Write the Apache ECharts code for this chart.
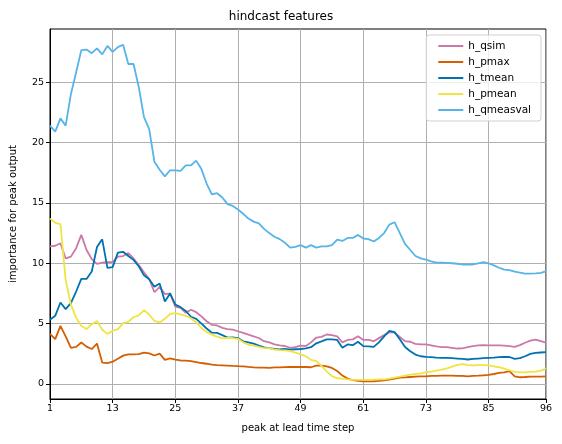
<!DOCTYPE html>
<html>
<head>
<meta charset="utf-8">
<title>hindcast features</title>
<script src="https://cdn.jsdelivr.net/npm/echarts@6/dist/echarts.min.js"></script>
<style>
  html, body { margin: 0; padding: 0; background: #fff; }
  #chart { width: 562px; height: 444px; }
</style>
</head>
<body>
<div id="chart"></div>
<script>
// lead time steps 1..96
var steps = [];
for (var s = 1; s <= 96; s++) steps.push(s);

var xTicks = [1, 13, 25, 37, 49, 61, 73, 85, 96];
var yTicks = [0, 5, 10, 15, 20, 25];

var h_qsim = [
  11.4, 11.45, 11.65, 10.4, 10.55, 11.25, 12.35, 11.1, 10.35, 9.95,
  10.05, 10.1, 10.1, 10.55, 10.6, 10.85, 10.4, 9.85, 9.25, 8.7,
  7.6, 8.05, 7.45, 7.5, 6.4, 6.3, 5.9, 6.15, 5.95, 5.6,
  5.2, 4.9, 4.85, 4.65, 4.55, 4.5, 4.37, 4.23, 4.09, 3.95,
  3.81, 3.55, 3.45, 3.28, 3.2, 3.15, 3.0, 3.05, 3.18, 3.15,
  3.45, 3.85, 3.9, 4.1, 4.05, 3.95, 3.45, 3.65, 3.7, 3.95,
  3.65, 3.65, 3.55, 3.8, 4.05, 4.3, 4.25, 3.9, 3.55, 3.5,
  3.33, 3.28, 3.28, 3.2, 3.11, 3.06, 3.06, 3.0, 2.94, 2.96,
  3.06, 3.14, 3.2, 3.22, 3.2, 3.2, 3.2, 3.18, 3.14, 3.08,
  3.22, 3.42, 3.6, 3.67, 3.55, 3.42
];

var h_pmax = [
  4.15, 3.72, 4.82, 3.94, 3.0, 3.08, 3.44, 3.1, 2.9, 3.35,
  1.78, 1.73, 1.85, 2.1, 2.35, 2.45, 2.45, 2.48, 2.6, 2.54,
  2.36, 2.52, 2.0, 2.12, 2.02, 1.95, 1.94, 1.9, 1.82, 1.74,
  1.68, 1.6, 1.57, 1.55, 1.53, 1.5, 1.48, 1.47, 1.42, 1.38,
  1.36, 1.35, 1.33, 1.38, 1.38, 1.4, 1.41, 1.41, 1.42, 1.41,
  1.39, 1.52, 1.52, 1.47, 1.33, 1.08, 0.7, 0.45, 0.32, 0.26,
  0.22, 0.22, 0.23, 0.26, 0.3, 0.36, 0.44, 0.53, 0.55, 0.58,
  0.61, 0.64, 0.64, 0.67, 0.67, 0.69, 0.69, 0.69, 0.67, 0.67,
  0.64, 0.67, 0.69, 0.72, 0.75, 0.83, 0.92, 0.97, 1.06, 0.64,
  0.56, 0.58, 0.61, 0.61, 0.61, 0.64
];

var h_tmean = [
  5.33, 5.65, 6.75, 6.2, 6.7, 7.66, 8.7, 8.7, 9.32, 11.35,
  11.98, 9.62, 9.68, 10.88, 10.95, 10.6, 10.28, 9.75, 9.0, 8.68,
  8.05, 8.33, 6.84, 7.5, 6.57, 6.37, 6.05, 5.57, 5.4, 5.0,
  4.6, 4.25, 4.23, 4.05, 3.85, 3.87, 3.8, 3.54, 3.45, 3.34,
  3.18, 3.04, 2.98, 2.9, 2.87, 2.9, 2.85, 2.88, 2.9, 2.95,
  3.05, 3.37, 3.53, 3.7, 3.7, 3.65, 3.0, 3.28, 3.22, 3.5,
  3.14, 3.12, 3.08, 3.45, 3.95, 4.4, 4.3, 3.7, 3.06, 2.72,
  2.44, 2.3, 2.25, 2.22, 2.19, 2.17, 2.17, 2.14, 2.11, 2.08,
  2.03, 2.08, 2.11, 2.14, 2.17, 2.19, 2.22, 2.25, 2.24, 2.08,
  2.14, 2.3, 2.5, 2.58, 2.61, 2.64
];

var h_pmean = [
  13.7, 13.35, 13.25, 8.6, 6.6, 5.5, 4.8, 4.55, 4.95, 5.22,
  4.5, 4.15, 4.4, 4.55, 5.04, 5.15, 5.55, 5.68, 6.12, 5.76,
  5.22, 5.1, 5.4, 5.8, 5.88, 5.76, 5.65, 5.45, 5.1, 4.64,
  4.3, 4.09, 3.93, 3.78, 3.81, 3.81, 3.74, 3.45, 3.26, 3.18,
  3.07, 2.98, 2.98, 2.85, 2.8, 2.79, 2.72, 2.6, 2.45, 2.3,
  2.0, 1.9, 1.5, 1.05, 0.65, 0.48, 0.44, 0.38, 0.35, 0.35,
  0.35, 0.35, 0.36, 0.38, 0.39, 0.44, 0.53, 0.61, 0.69, 0.78,
  0.83, 0.89, 0.97, 1.03, 1.11, 1.19, 1.3, 1.44, 1.58, 1.64,
  1.58, 1.55, 1.57, 1.57, 1.55, 1.47, 1.39, 1.28, 1.14, 1.0,
  0.97, 0.97, 1.0, 1.03, 1.11, 1.3
];

var h_qmeasval = [
  21.4, 20.9, 22.0, 21.4, 24.0, 25.8, 27.65, 27.7, 27.4, 27.8,
  27.3, 28.0, 27.5, 27.9, 28.1, 26.5, 26.5, 24.6, 22.1, 21.1,
  18.4, 17.75, 17.2, 17.7, 17.7, 17.65, 18.1, 18.1, 18.5, 17.8,
  16.6, 15.7, 15.8, 15.45, 14.9, 14.75, 14.45, 14.1, 13.7, 13.45,
  13.3, 12.85, 12.5, 12.2, 12.0, 11.7, 11.3, 11.35, 11.5, 11.3,
  11.5, 11.3, 11.4, 11.4, 11.5, 11.95, 11.85, 12.1, 12.1, 12.35,
  12.05, 12.0, 11.8, 12.1, 12.5, 13.2, 13.4, 12.5, 11.6, 11.1,
  10.6, 10.4, 10.3, 10.15, 10.05, 10.05, 10.03, 10.0, 9.96, 9.9,
  9.9, 9.9, 10.0, 10.1, 10.0, 9.83, 9.63, 9.47, 9.43, 9.3,
  9.22, 9.14, 9.15, 9.17, 9.2, 9.33
];

var seriesNames = ['h_qsim', 'h_pmax', 'h_tmean', 'h_pmean', 'h_qmeasval'];
var seriesValues = [h_qsim, h_pmax, h_tmean, h_pmean, h_qmeasval];
var seriesColors = ['#CC79A7', '#D55E00', '#0072B2', '#F0E442', '#56B4E9'];

var FONT = 'DejaVu Sans';

function pairs(values) {
  return values.map(function(v, i) {
    return [steps[i], v];
  });
}

var series = seriesNames.map(function(name, i) {
  return {
    name: name,
    type: 'line',
    data: pairs(seriesValues[i]),
    showSymbol: false,
    symbol: 'none',
    lineStyle: { color: seriesColors[i], width: 1.8 },
    itemStyle: { color: seriesColors[i] }
  };
});

var chart = echarts.init(document.getElementById('chart'), null, { renderer: 'canvas' });

chart.setOption({
  animation: false,
  backgroundColor: '#fff',
  title: {
    text: 'hindcast features',
    left: 'center',
    top: 6,
    textStyle: { fontFamily: FONT, fontSize: 12, fontWeight: 'normal', color: '#000' }
  },
  grid: {
    left: 50, right: 16, top: 29, bottom: 45,
    show: true,
    borderColor: '#000',
    borderWidth: 1,
    backgroundColor: 'transparent'
  },
  legend: {
    orient: 'vertical',
    right: 21,
    top: 35,
    data: seriesNames,
    icon: 'rect',
    itemWidth: 25,
    itemHeight: 2,
    itemGap: 0,
    padding: [3, 10, 3, 12],
    borderColor: '#d0d0d0',
    borderWidth: 1,
    borderRadius: 3,
    backgroundColor: 'rgba(255,255,255,0.8)',
    textStyle: { fontFamily: FONT, fontSize: 10.5, color: '#000', lineHeight: 16 }
  },
  xAxis: {
    type: 'value',
    min: 1,
    max: 96,
    name: 'peak at lead time step',
    nameLocation: 'middle',
    nameGap: 24,
    nameTextStyle: { fontFamily: FONT, fontSize: 10, color: '#000' },
    axisLine: { onZero: false, lineStyle: { color: '#000', width: 1 } },
    axisTick: { customValues: xTicks, length: 4, lineStyle: { color: '#000' } },
    axisLabel: { customValues: xTicks, fontFamily: FONT, fontSize: 9.5, color: '#000', margin: 5 },
    splitLine: { show: true, lineStyle: { color: '#b0b0b0', width: 1 } }
  },
  yAxis: {
    type: 'value',
    min: -1.24,
    max: 29.4,
    name: 'importance for peak output',
    nameLocation: 'middle',
    nameGap: 32,
    nameTextStyle: { fontFamily: FONT, fontSize: 10, color: '#000' },
    axisLine: { show: true, onZero: false, lineStyle: { color: '#000', width: 1 } },
    axisTick: { show: true, customValues: yTicks, length: 4, lineStyle: { color: '#000' } },
    axisLabel: { customValues: yTicks, fontFamily: FONT, fontSize: 9.5, color: '#000', margin: 6 },
    splitLine: { show: true, lineStyle: { color: '#b0b0b0', width: 1 } }
  },
  series: series
});
</script>
</body>
</html>
